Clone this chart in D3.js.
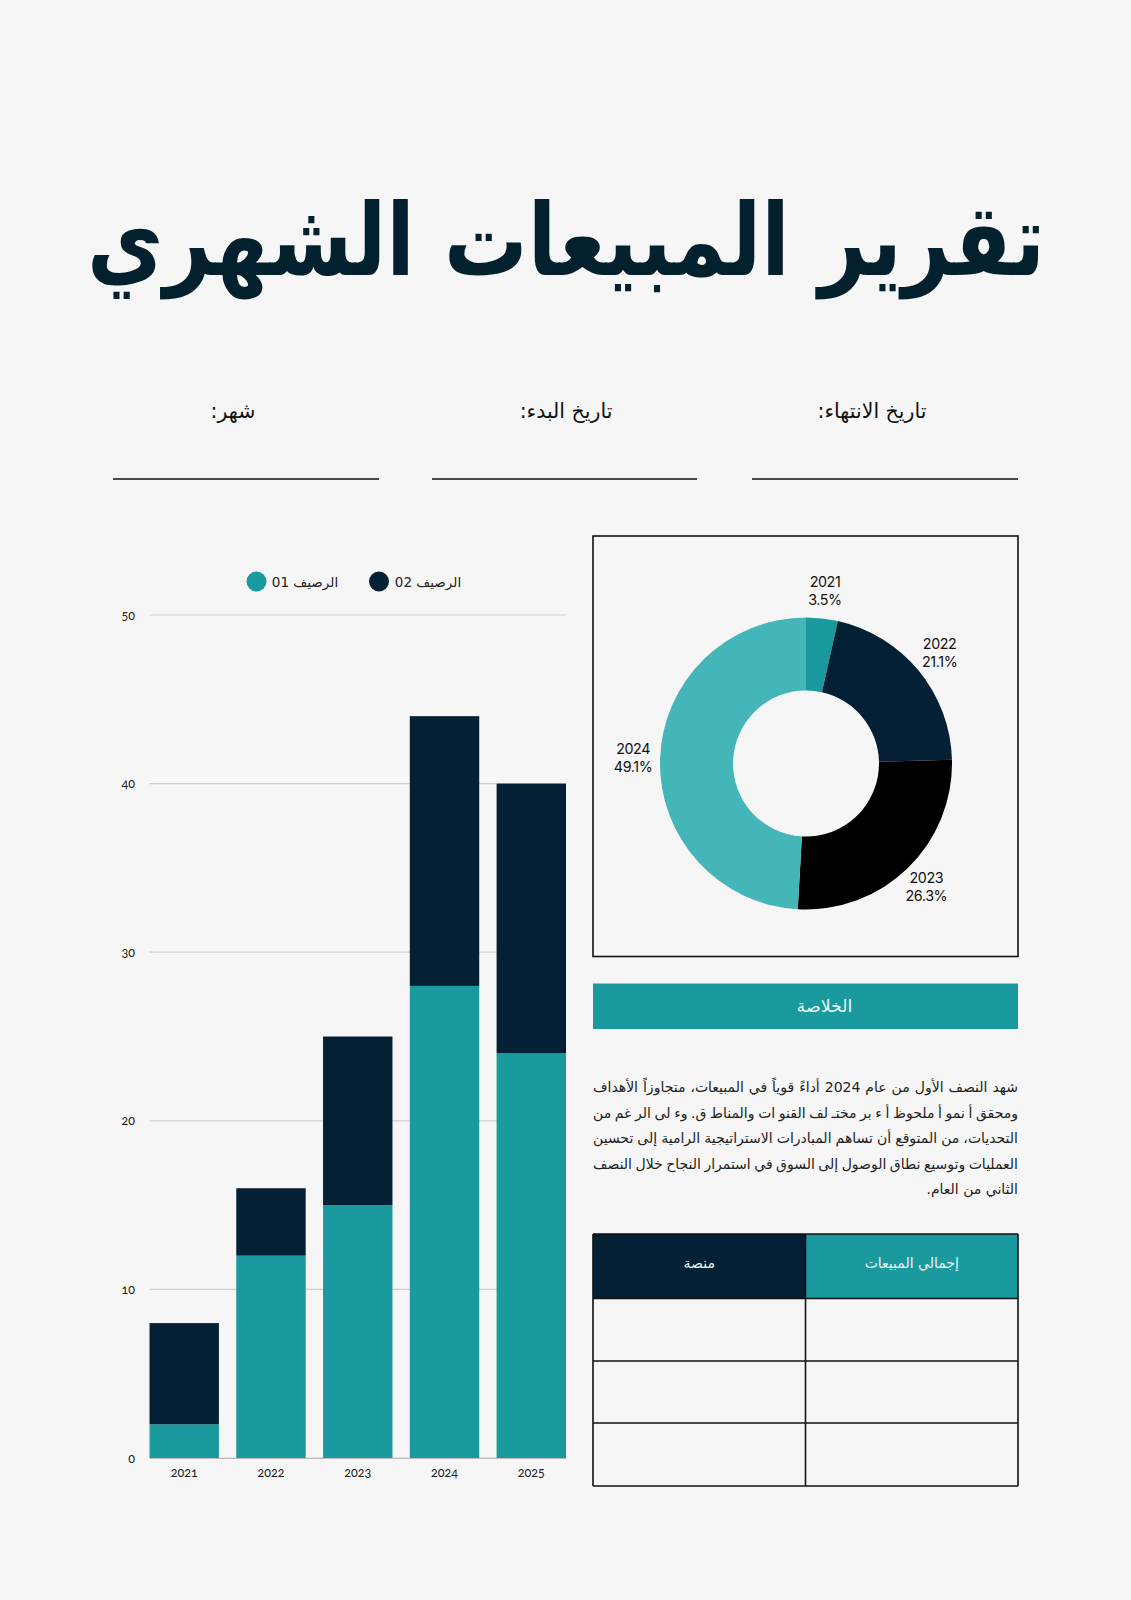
<!DOCTYPE html>
<html lang="ar">
<head>
<meta charset="utf-8">
<script src="https://cdn.jsdelivr.net/npm/d3@7"></script>
<style>
  html, body { margin: 0; padding: 0; background: #f6f6f6; }
  svg { display: block; }
  .ar { font-family: "DejaVu Sans", sans-serif; }
  .num { font-family: "Lato", sans-serif; font-variant-numeric: oldstyle-nums; }
</style>
</head>
<body>
<div id="page"></div>
<script>
// Chart data
let years = ["2021", "2022", "2023", "2024", "2025"];
let shelf01 = [2, 12, 15, 28, 24];
let shelf02 = [6, 4, 10, 16, 16];
let seriesNames = ["الرصيف 01", "الرصيف 02"];
let yTicks = [0, 10, 20, 30, 40, 50];

let pieYears = ["2021", "2022", "2023", "2024"];
let pieShares = [3.5, 21.1, 26.3, 49.1];

let fieldLabels = ["تاريخ الانتهاء:", "تاريخ البدء:", "شهر:"];
let tableHeaders = ["منصة", "إجمالي المبيعات"];
let summaryLines = [
  "شهد النصف الأول من عام 2024 أداءً قوياً في المبيعات، متجاوزاً الأهداف",
  "ومحقق أ نمو أ ملحوظ أ ء بر مختـ لف القنو ات والمناط ق. وء لى الر غم من",
  "التحديات، من المتوقع أن تساهم المبادرات الاستراتيجية الرامية إلى تحسين",
  "العمليات وتوسيع نطاق الوصول إلى السوق في استمرار النجاح خلال النصف",
  "الثاني من العام."
];

let teal = "#1a9a9e", navy = "#032034", ink = "#03202f";

let svg = d3.select("#page")
  .append("svg")
  .attr("width", 1131)
  .attr("height", 1600);

svg.append("rect")
  .attr("width", 1131).attr("height", 1600)
  .attr("fill", "#f6f6f6");

// Title (stretched a little: the original face is taller than DejaVu)
let title = svg.append("text")
  .attr("class", "ar")
  .attr("x", 566).attr("y", 275)
  .attr("text-anchor", "middle")
  .attr("font-size", 100)
  .attr("font-weight", "bold")
  .attr("fill", ink)
  .attr("transform", "translate(0,275) scale(1,1.2) translate(0,-275)")
  .text("تقرير المبيعات الشهري");
let tw = title.node().getComputedTextLength();
title.attr("font-size", 100 * 958 / tw);

// Field labels with underlines
let fields = [
  { cx: 872, x0: 752, x1: 1018 },
  { cx: 566, x0: 432, x1: 697 },
  { cx: 233, x0: 113, x1: 379 }
];
fields.forEach((f, i) => {
  svg.append("text")
    .attr("class", "ar")
    .attr("direction", "rtl")
    .attr("x", f.cx).attr("y", 418)
    .attr("text-anchor", "middle")
    .attr("font-size", 20.5)
    .attr("fill", "#111")
    .text(fieldLabels[i]);
  svg.append("line")
    .attr("x1", f.x0).attr("x2", f.x1)
    .attr("y1", 479).attr("y2", 479)
    .attr("stroke", "#111").attr("stroke-width", 1.6);
});

// ---------- Stacked bar chart ----------
let x = d3.scaleBand()
  .domain(years)
  .range([149.5, 566])
  .paddingInner(0.2)
  .paddingOuter(0);

let y = d3.scaleLinear()
  .domain([0, 50])
  .range([1458, 615]);

// grid lines
svg.append("g")
  .selectAll("line")
  .data(yTicks)
  .join("line")
  .attr("x1", 149.5).attr("x2", 566)
  .attr("y1", d => y(d)).attr("y2", d => y(d))
  .attr("stroke", "#cfcfcf").attr("stroke-width", 1.2);

// y axis labels
let yAxis = svg.append("g")
  .attr("transform", "translate(135,0)")
  .call(d3.axisLeft(y).tickValues(yTicks).tickSize(0).tickPadding(0));
yAxis.select(".domain").remove();
yAxis.selectAll("text")
  .attr("class", "num")
  .attr("font-size", 12.5)
  .attr("fill", "#222");

let table = years.map((yr, i) => ({ year: yr, s1: shelf01[i], s2: shelf02[i] }));
let stacked = d3.stack().keys(["s1", "s2"])(table);
let barColors = [teal, navy];

svg.append("g")
  .selectAll("g")
  .data(stacked)
  .join("g")
  .attr("fill", (d, i) => barColors[i])
  .selectAll("rect")
  .data(d => d)
  .join("rect")
  .attr("x", d => x(d.data.year))
  .attr("y", d => y(d[1]))
  .attr("width", x.bandwidth())
  .attr("height", d => y(d[0]) - y(d[1]));

// x axis labels
let xAxis = svg.append("g")
  .attr("transform", "translate(0,1458)")
  .call(d3.axisBottom(x).tickSize(0).tickPadding(10));
xAxis.select(".domain").attr("stroke", "#bbb");
xAxis.selectAll("text")
  .attr("class", "num")
  .attr("font-size", 12.5)
  .attr("fill", "#222");

// legend
let legendPos = [{ cx: 256.5, tx: 305 }, { cx: 379, tx: 428 }];
seriesNames.forEach((name, i) => {
  svg.append("circle")
    .attr("cx", legendPos[i].cx).attr("cy", 581.5).attr("r", 10)
    .attr("fill", barColors[i]);
  svg.append("text")
    .attr("class", "ar")
    .attr("direction", "rtl")
    .attr("x", legendPos[i].tx).attr("y", 586.5)
    .attr("text-anchor", "middle")
    .attr("font-size", 13.5)
    .attr("fill", "#222")
    .text(name);
});

// ---------- Donut ----------
svg.append("rect")
  .attr("x", 593).attr("y", 536)
  .attr("width", 425).attr("height", 420.5)
  .attr("fill", "none")
  .attr("stroke", "#111").attr("stroke-width", 1.6);

let pieColors = [teal, navy, "#000000", "#44b5b8"];
let pie = d3.pie().sort(null).value(d => d.v);
let arcs = pie(pieYears.map((yr, i) => ({ year: yr, v: pieShares[i], c: pieColors[i] })));
let arc = d3.arc().innerRadius(73).outerRadius(146);
let labelArc = d3.arc().innerRadius(173).outerRadius(173);

let donut = svg.append("g").attr("transform", "translate(806,763.5)");
donut.selectAll("path")
  .data(arcs)
  .join("path")
  .attr("d", arc)
  .attr("fill", d => d.data.c);

let lbl = donut.selectAll("text")
  .data(arcs)
  .join("text")
  .attr("transform", d => "translate(" + labelArc.centroid(d) + ")")
  .attr("text-anchor", "middle")
  .attr("font-family", "Inter, Liberation Sans, sans-serif")
  .attr("font-size", 14.3)
  .attr("letter-spacing", -0.4)
  .attr("fill", "#111");
lbl.append("tspan").attr("x", 0).attr("dy", "-0.3em").text(d => d.data.year);
lbl.append("tspan").attr("x", 0).attr("dy", "1.25em").text(d => d.data.v + "%");

// ---------- Summary ----------
svg.append("rect")
  .attr("x", 593).attr("y", 983.5)
  .attr("width", 425).attr("height", 45.5)
  .attr("fill", teal);
svg.append("text")
  .attr("class", "ar")
  .attr("x", 824.5).attr("y", 1011.5)
  .attr("text-anchor", "middle")
  .attr("font-size", 17.4)
  .attr("fill", "#e6fafa")
  .text("الخلاصة");

// justified paragraph: spread spaces so each full line spans the column
let colW = 1018 - 593;
summaryLines.forEach((line, i) => {
  let t = svg.append("text")
    .attr("class", "ar")
    .attr("direction", "rtl")
    .attr("x", 1018).attr("y", 1092 + i * 25.6)
    .attr("text-anchor", "start")
    .attr("font-size", 14)
    .attr("fill", "#222")
    .text(line);
  if (i < summaryLines.length - 1) {
    let gaps = line.split(" ").length - 1;
    let len = t.node().getComputedTextLength();
    t.attr("word-spacing", (colW - len) / gaps);
  }
});

// ---------- Table ----------
let colX = [593, 805.5, 1018];
let rowY = [1234, 1298.5, 1361, 1423, 1486];
let headFill = [navy, teal];

tableHeaders.forEach((h, i) => {
  svg.append("rect")
    .attr("x", colX[i]).attr("y", rowY[0])
    .attr("width", colX[i + 1] - colX[i]).attr("height", rowY[1] - rowY[0])
    .attr("fill", headFill[i]);
  svg.append("text")
    .attr("class", "ar")
    .attr("x", (colX[i] + colX[i + 1]) / 2).attr("y", 1268)
    .attr("text-anchor", "middle")
    .attr("font-size", 14)
    .attr("fill", "#e6f6f8")
    .text(h);
});

let grid = svg.append("g")
  .attr("stroke", "#111").attr("stroke-width", 1.6);
rowY.forEach(ry => {
  grid.append("line").attr("x1", 593).attr("x2", 1018).attr("y1", ry).attr("y2", ry);
});
colX.forEach(cx => {
  grid.append("line").attr("x1", cx).attr("x2", cx).attr("y1", rowY[0]).attr("y2", rowY[4]);
});
</script>
</body>
</html>
